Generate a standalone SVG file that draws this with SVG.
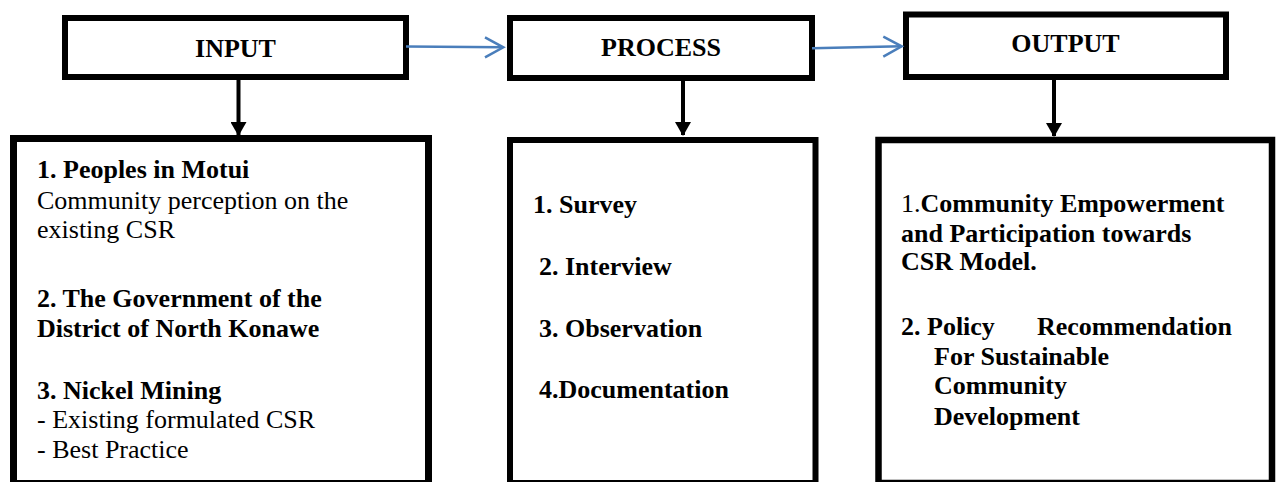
<svg xmlns="http://www.w3.org/2000/svg" width="1277" height="482" viewBox="0 0 1277 482">
  <style>
    .t { font-family: "Liberation Serif", "Times New Roman", "DejaVu Serif", serif; font-size: 26px; fill: #000; }
    .b { font-weight: bold; }
    .box { fill: #fff; stroke: #000; }
    .down { stroke: #000; stroke-width: 4; fill: none; }
    .blue { stroke: #4A7EBB; stroke-width: 2.5; fill: none; }
  </style>
  <defs>
    <marker id="tri" viewBox="0 0 14 16" refX="13" refY="8" markerWidth="14" markerHeight="16" markerUnits="userSpaceOnUse" orient="auto">
      <path d="M0,0 L14,8 L0,16 Z" fill="#000"/>
    </marker>
  </defs>
  <rect width="1277" height="482" fill="#fff"/>

  <g id="input-title">
    <rect class="box" x="65" y="18" width="341" height="59" stroke-width="6"/>
    <text class="t b" x="235.5" y="57" text-anchor="middle">INPUT</text>
  </g>
  <g id="process-title">
    <rect class="box" x="510" y="18" width="302" height="60" stroke-width="6"/>
    <text class="t b" x="661" y="56" text-anchor="middle">PROCESS</text>
  </g>
  <g id="output-title">
    <rect class="box" x="906" y="14.5" width="320" height="62.5" stroke-width="6"/>
    <text class="t b" x="1065.5" y="52" text-anchor="middle">OUTPUT</text>
  </g>

  <g id="input-box">
    <rect class="box" x="13.5" y="138.5" width="415" height="345" stroke-width="7"/>
    <text class="t b" x="37" y="178">1. Peoples in Motui</text>
    <text class="t" x="37" y="209">Community perception on the</text>
    <text class="t" x="37" y="238">existing CSR</text>
    <text class="t b" x="37" y="307">2. The Government of the</text>
    <text class="t b" x="37" y="337">District of North Konawe</text>
    <text class="t b" x="37" y="399">3. Nickel Mining</text>
    <text class="t" x="37" y="428">- Existing formulated CSR</text>
    <text class="t" x="37" y="458">- Best Practice</text>
  </g>

  <g id="process-box">
    <rect class="box" x="510" y="140" width="305.5" height="343" stroke-width="6"/>
    <text class="t b" x="533" y="213">1. Survey</text>
    <text class="t b" x="539" y="275">2. Interview</text>
    <text class="t b" x="539" y="337">3. Observation</text>
    <text class="t b" x="539" y="398">4.Documentation</text>
  </g>

  <g id="output-box">
    <rect class="box" x="878.5" y="140" width="393.5" height="343" stroke-width="6.5"/>
    <text class="t" x="901" y="212">1.<tspan class="b">Community Empowerment</tspan></text>
    <text class="t b" x="901" y="242">and Participation towards</text>
    <text class="t b" x="901" y="270">CSR Model.</text>
    <text class="t b" y="335"><tspan x="901">2. Policy</tspan><tspan x="1037">Recommendation</tspan></text>
    <text class="t b" x="934" y="365">For Sustainable</text>
    <text class="t b" x="934" y="394">Community</text>
    <text class="t b" x="934" y="425">Development</text>
  </g>

  <g id="connectors">
    <line class="down" x1="238.5" y1="80" x2="238.5" y2="135" marker-end="url(#tri)"/>
    <line class="down" x1="683" y1="81" x2="683" y2="135" marker-end="url(#tri)"/>
    <line class="down" x1="1054" y1="80" x2="1054" y2="136" marker-end="url(#tri)"/>
    <line class="blue" x1="406" y1="46.5" x2="503" y2="47.3"/>
    <polyline class="blue" points="485,37.3 503.3,47.3 485,57.3"/>
    <line class="blue" x1="812" y1="48.3" x2="901.7" y2="46.3"/>
    <polyline class="blue" points="883.3,36.7 901.7,46.3 883.3,56.7"/>
  </g>
</svg>
